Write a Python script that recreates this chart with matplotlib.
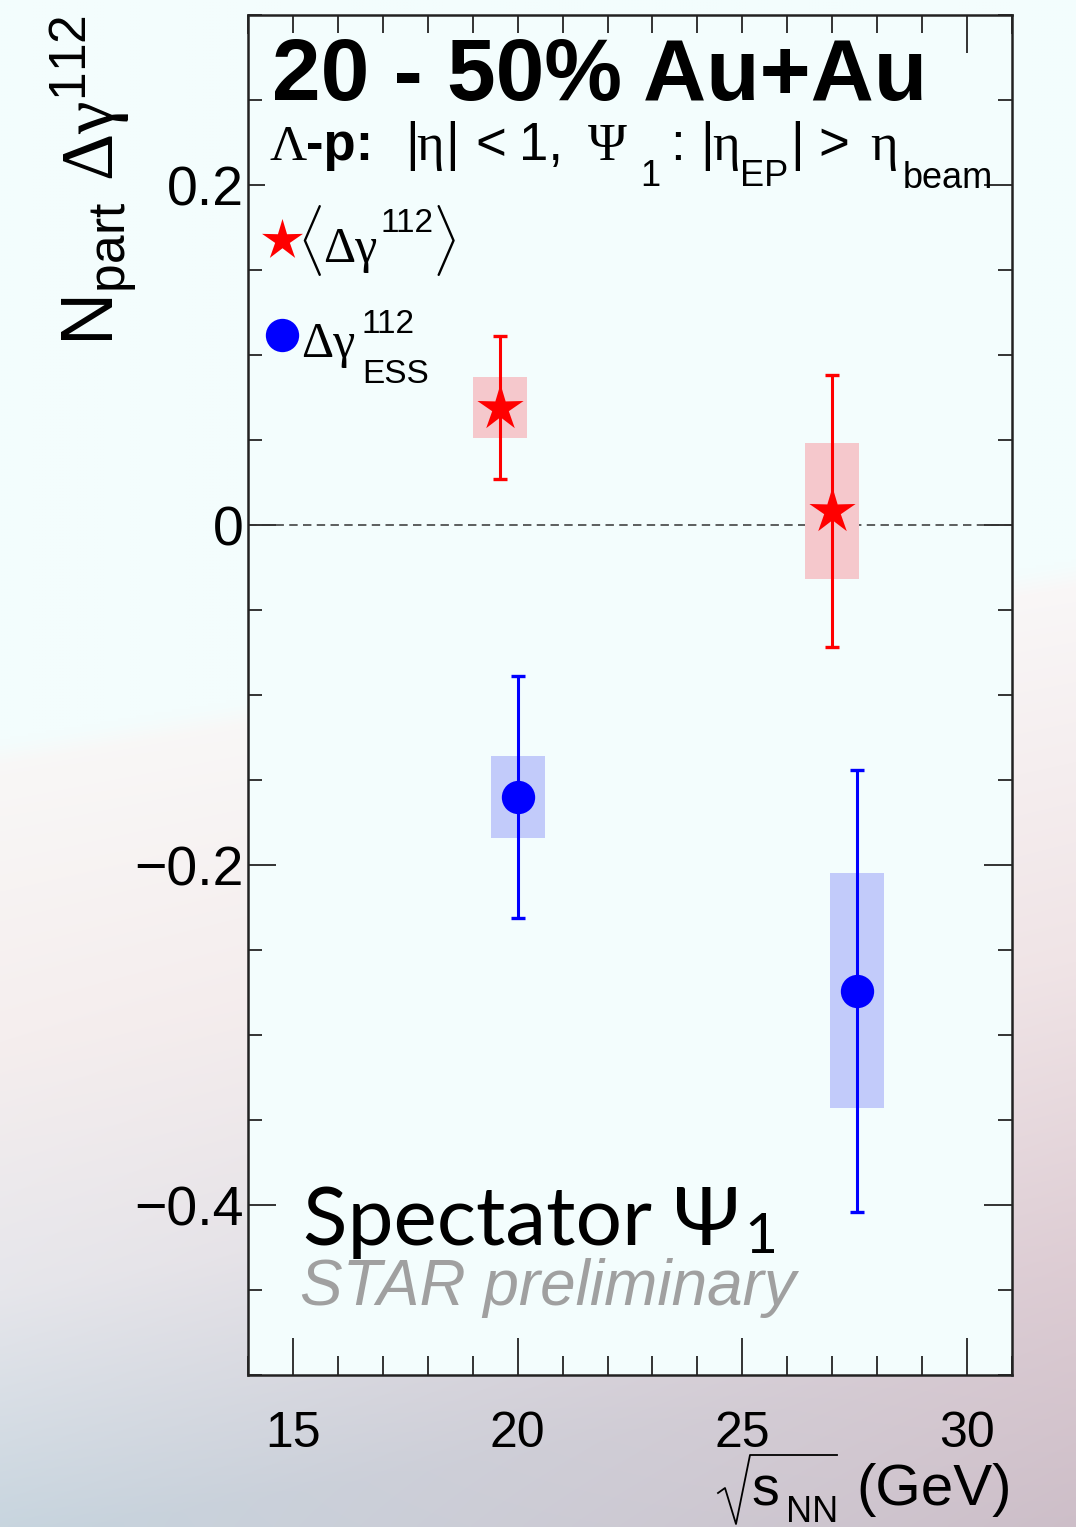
import numpy as np
import matplotlib
matplotlib.use("Agg")
import matplotlib.pyplot as plt
from matplotlib.lines import Line2D
from matplotlib.patches import Rectangle
from matplotlib.path import Path
from matplotlib.ticker import MultipleLocator, FuncFormatter

plt.rcParams.update({
    "font.family": ["Liberation Sans", "DejaVu Sans"],
    "mathtext.fontset": "custom",
    "mathtext.rm": "Liberation Sans",
    "mathtext.it": "Liberation Sans:italic",
    "mathtext.bf": "Liberation Sans:bold",
    "mathtext.sf": "Liberation Serif",
})

# <dgamma^112> (red stars) and dgamma^112_ESS (blue circles) vs beam energy
avg_energy = [19.6, 27.0]
avg_value = [0.069, 0.008]
avg_stat = [0.042, 0.080]
avg_sys = [0.018, 0.040]

ess_energy = [20.0, 27.55]
ess_value = [-0.160, -0.274]
ess_stat = [0.071, 0.130]
ess_sys = [0.024, 0.069]

x_ticks = [15, 20, 25, 30]
y_ticks = [-0.4, -0.2, 0.0, 0.2]

W, H = 1076, 1527
fig = plt.figure(figsize=(W / 100, H / 100), dpi=100)
SERIF = dict(family=["Liberation Serif", "DejaVu Serif"])
LATO = dict(family=["Lato", "Open Sans", "DejaVu Sans"])


def P(x, y):
    # pixel position (from top-left) -> figure fraction
    return x / W, 1 - y / H


def put(x, y, s, size, **kw):
    return fig.text(x / W, 1 - y / H, s, fontsize=size, va="baseline", **kw)


def right_of(t, gap=0):
    # x pixel just after a drawn text
    return t.get_window_extent(fig.canvas.get_renderer()).x1 + gap


# slide background: azure on top, fading to mauve / steel blue at the bottom
bg = fig.add_axes([0, 0, 1, 1], zorder=-10)
yy, xx = np.mgrid[0:H:3, 0:W:3].astype(float)
d = yy + 0.167 * xx - 740


def ramp(d, pos, cols):
    cols = np.array(cols, float)
    return np.stack([np.interp(d, pos, cols[:, k]) for k in range(3)], axis=-1)


left = ramp(d, [0, 300, 550, 800], [(249, 248, 247), (245, 238, 238), (230, 230, 235), (198, 212, 222)])
right = ramp(d, [0, 400, 700, 970], [(250, 248, 248), (240, 228, 230), (222, 205, 212), (205, 190, 200)])
t = (xx / W)[..., None]
img = left * (1 - t) + right * t
w = np.clip(d / 25, 0, 1)[..., None]
azure = np.array([243, 253, 253], float)
img = azure * (1 - w) + img * w
bg.imshow(img / 255, extent=[0, 1, 0, 1], aspect="auto", origin="upper", interpolation="bilinear")
bg.axis("off")

ax = fig.add_axes([248 / W, 1 - 1375 / H, 764 / W, 1360 / H])
ax.set_facecolor("#f3fdfd")
ax.set_xlim(14, 31)
ax.set_ylim(-0.5, 0.3)

ax.axhline(0, color="#333333", lw=1.1, ls=(0, (5.5, 3.5)), zorder=1)

# systematic boxes
for xs, ys, ss, fc in [(avg_energy, avg_value, avg_sys, "#f5c8cc"),
                       (ess_energy, ess_value, ess_sys, "#c2cbfa")]:
    for xv, yv, sv in zip(xs, ys, ss):
        ax.add_patch(Rectangle((xv - 0.6, yv - sv), 1.2, 2 * sv, facecolor=fc,
                               edgecolor="none", zorder=1.5))

star = Path.unit_regular_star(5, 0.36)

ax.errorbar(avg_energy, avg_value, yerr=avg_stat, fmt="none", ecolor="red",
            elinewidth=2.2, capsize=4.8, capthick=2.4, zorder=4)
ax.plot(avg_energy, avg_value, ls="none", marker=star, ms=35, color="red",
        markeredgewidth=0, zorder=5)

ax.errorbar(ess_energy, ess_value, yerr=ess_stat, fmt="none", ecolor="blue",
            elinewidth=2.2, capsize=4.8, capthick=2.4, zorder=4)
ax.plot(ess_energy, ess_value, ls="none", marker="o", ms=24, color="blue",
        markeredgewidth=0, zorder=5)

# axes, ticks
for s in ax.spines.values():
    s.set_linewidth(1.8)
    s.set_color("#222222")
ax.set_xticks(x_ticks)
ax.xaxis.set_minor_locator(MultipleLocator(1))
ax.set_yticks(y_ticks)
ax.yaxis.set_minor_locator(MultipleLocator(0.05))
ax.yaxis.set_major_formatter(FuncFormatter(
    lambda v, pos: f"{round(v, 3) + 0.0:g}".replace("-", "\u2212")))
ax.tick_params(which="both", direction="in", top=True, right=True,
               color="#333333", width=1.4)
ax.tick_params(axis="x", which="major", length=27, pad=26, labelsize=36)
ax.tick_params(axis="x", which="minor", length=13.5)
ax.tick_params(axis="y", which="major", length=20, pad=3, labelsize=40)
ax.tick_params(axis="y", which="minor", length=10)

# text pad behind the header hides the upper tick marks
ax.add_patch(Rectangle((0.022, 0.864), 0.877, 0.123, transform=ax.transAxes,
                       facecolor="#f3fdfd", edgecolor="none", zorder=3))

put(272, 100, "20 - 50% Au+Au", 63, fontweight="bold")

# second header line, laid out piece by piece
lam = put(270, 160, "\u039b", 37, **SERIF)
put(right_of(lam, -1), 160, "-p:", 38, fontweight="bold")
put(405, 160, "|", 38)
put(416, 160, "\u03b7", 38, **SERIF)
put(445, 160, "|", 38)
put(475, 160, "<", 38)
put(519, 160, "1,", 38)
put(588, 160, "\u03a8", 38, **SERIF)
put(640, 186, "1", 26)
put(670, 160, ":", 38)
put(700, 160, "|", 38)
put(712, 160, "\u03b7", 38, **SERIF)
put(740, 186, "EP", 26)
put(790, 160, "|", 38)
put(818, 160, ">", 38)
put(870, 160, "\u03b7", 38, **SERIF)
put(903, 188, "beam", 26)

fig.text(*P(94, 15), r"$\mathrm{N}_{\mathrm{part}}\ \mathsf{\Delta\gamma}^{\mathrm{112}}$",
         rotation=90, ha="center", va="top", fontsize=53)

# x title: hand-drawn root sign over s_NN
put(751, 1505, "s", 40)
put(786, 1522, "NN", 26)
fig.add_artist(Line2D([718 / W, 725 / W, 736 / W, 750 / W, 837 / W],
                      [1 - 1493 / H, 1 - 1488 / H, 1 - 1524 / H, 1 - 1455 / H, 1 - 1455 / H],
                      transform=fig.transFigure, color="black", lw=1.3))
fig.text(*P(1012, 1505), "(GeV)", ha="right", va="baseline", fontsize=42)

# legend
ax.plot(*P(282, 240), marker=star, ms=31, color="red", markeredgewidth=0,
        transform=fig.transFigure, clip_on=False)
lb = put(297, 262, r"$\langle$", 42)
put(right_of(lb, 1), 262, "\u0394\u03b3", 36, **SERIF)
put(380, 232, "112", 24)
put(432, 262, r"$\rangle$", 42)

ax.plot(*P(282, 335), marker="o", ms=24, color="blue", markeredgewidth=0,
        transform=fig.transFigure, clip_on=False)
put(301, 357, "\u0394\u03b3", 36, **SERIF)
put(362, 333, "112", 24)
put(362, 383, "ESS", 24)

spec = put(303, 1245, "Spectator \u03a8", 59, **LATO)
put(300, 1305, "STAR preliminary", 46, style="italic", color="#a0a0a0")
put(right_of(spec, 4), 1253, "1", 41, **LATO)

fig.savefig("out.png", dpi=100)
